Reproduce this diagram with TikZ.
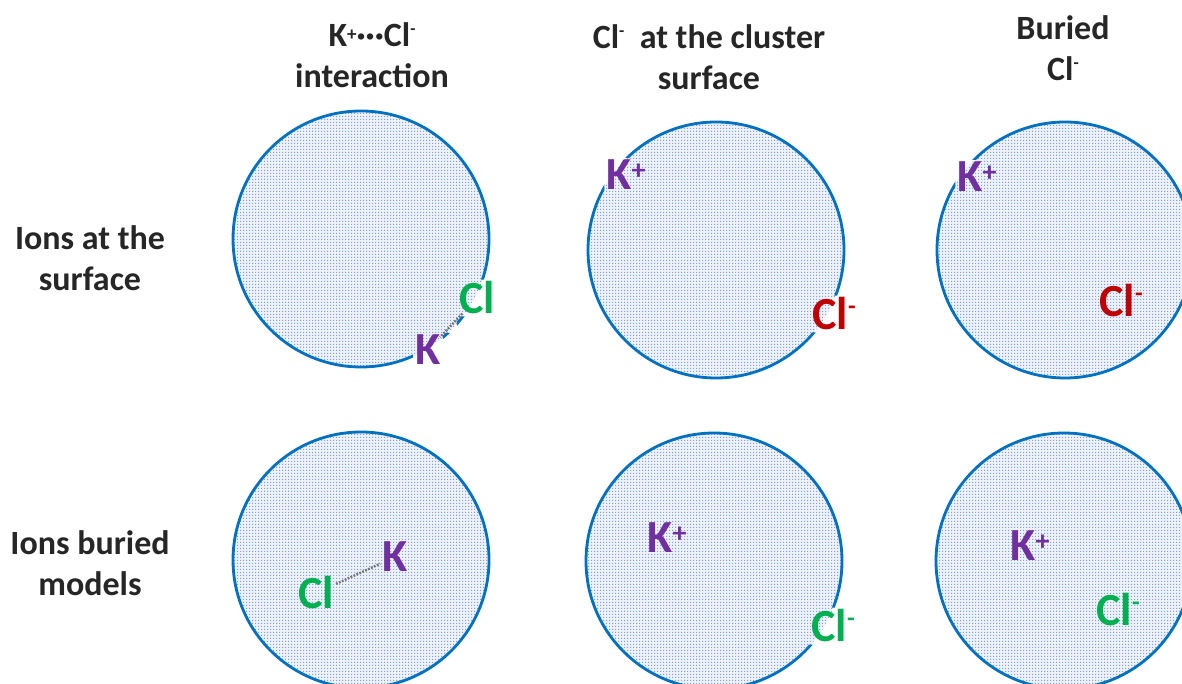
\documentclass[tikz,border=0pt]{standalone}
\usepackage{fontspec}
\setmainfont{Carlito}
\usetikzlibrary{patterns}
\definecolor{ringblue}{RGB}{0,112,192}
\definecolor{kpur}{RGB}{112,48,160}
\definecolor{clgreen}{RGB}{0,176,80}
\definecolor{clred}{RGB}{192,0,0}
\definecolor{inkgray}{RGB}{38,38,38}
\definecolor{bgblue}{RGB}{238,242,251}
\definecolor{dotblue}{RGB}{130,160,225}
\definecolor{bondgray}{RGB}{115,115,115}
\pgfdeclarepatternformonly{clusterchecks}{\pgfpointorigin}{\pgfqpoint{3pt}{3pt}}{\pgfqpoint{3pt}{3pt}}{%
  \pgfpathrectangle{\pgfpointorigin}{\pgfqpoint{1.5pt}{1.5pt}}%
  \pgfusepath{fill}}
\newcommand\hup[1]{\raisebox{6pt}{\fontsize{19}{19}\selectfont #1}}
\newcommand\hdn[1]{\raisebox{12pt}{\fontsize{17}{17}\selectfont #1}}
\newcommand\iup[1]{\raisebox{10pt}{\fontsize{28}{28}\selectfont #1}}
\newcommand\idn[1]{\raisebox{15pt}{\fontsize{25}{25}\selectfont #1}}
\begin{document}
\begin{tikzpicture}[x=1pt,y=-1pt,
  hdr/.style={font=\fontsize{34}{41}\selectfont\bfseries, text=inkgray, align=center, inner sep=0pt},
  ion/.style={font=\fontsize{46}{50}\selectfont\bfseries, inner sep=2pt},
  kion/.style={ion, text=kpur},
  clg/.style={ion, text=clgreen},
  clr/.style={ion, text=clred},
  clusterfill/.style={fill=bgblue},
  clusterdots/.style={pattern=clusterchecks, pattern color=dotblue},
  clusterline/.style={draw=ringblue, line width=2.8pt},
  bond/.style={draw=bondgray, line width=2.4pt, dash pattern=on 1.8pt off 1.4pt}]
\clip (0,0) rectangle (1182,684);
% cluster fills
\foreach \cx/\cy in {361/239, 716/250, 1065/250, 361/560, 714/561, 1064/561}{
  \fill[clusterfill] (\cx,\cy) circle[radius=128pt];
  \fill[clusterdots] (\cx,\cy) circle[radius=128pt];
}
% headers
\node[hdr] (h1) at (372,55) {K\hup{+}···Cl\hdn{-}\\interaction};
\node[hdr] (h2) at (709,57) {Cl\hdn{-}\ \ at the cluster\\surface};
\node[hdr] (h3) at (1063,48) {Buried\\Cl\hdn{-}};
\node[hdr] (r1) at (90,258) {Ions at the\\surface};
\node[hdr] (r2) at (90,563) {Ions buried\\models};
% ions
\node[clg] (cl1) at (477,298) {Cl};
\node[kion] (k1) at (428,350) {K};
\node[kion] (k2) at (626,175) {K\iup{+}};
\node[clr] (cl2) at (834,314) {Cl\idn{-}};
\node[kion] (k3) at (977,177) {K\iup{+}};
\node[clr] (cl3) at (1121,301) {Cl\idn{-}};
\node[kion] (k4) at (395,557) {K};
\node[clg] (cl4) at (316,593) {Cl};
\node[kion] (k5) at (667,538) {K\iup{+}};
\node[clg] (cl5) at (833,626) {Cl\idn{-}};
\node[kion] (k6) at (1030,546) {K\iup{+}};
\node[clg] (cl6) at (1118,610) {Cl\idn{-}};
% outlines, interrupted where labels sit on them
\begin{scope}
  \clip (0,0) rectangle (1182,684)
    (k1.south west) rectangle (k1.north east)
    (cl1.south west) rectangle (cl1.north east)
    (k1.north east) rectangle (cl1.south west)
    (k2.south west) rectangle (k2.north east)
    (cl2.south west) rectangle (cl2.north east)
    (k3.south west) rectangle (k3.north east)
    (cl5.south west) rectangle (cl5.north east);
  \foreach \cx/\cy in {361/239, 716/250, 1065/250, 361/560, 714/561, 1064/561}{
    \draw[clusterline] (\cx,\cy) circle[radius=128pt];
  }
\end{scope}
% K...Cl contacts
\draw[bond, shorten <=-4pt, shorten >=-4pt] (cl1) -- (k1);
\draw[bond] (cl4) -- (k4);
\end{tikzpicture}
\end{document}
